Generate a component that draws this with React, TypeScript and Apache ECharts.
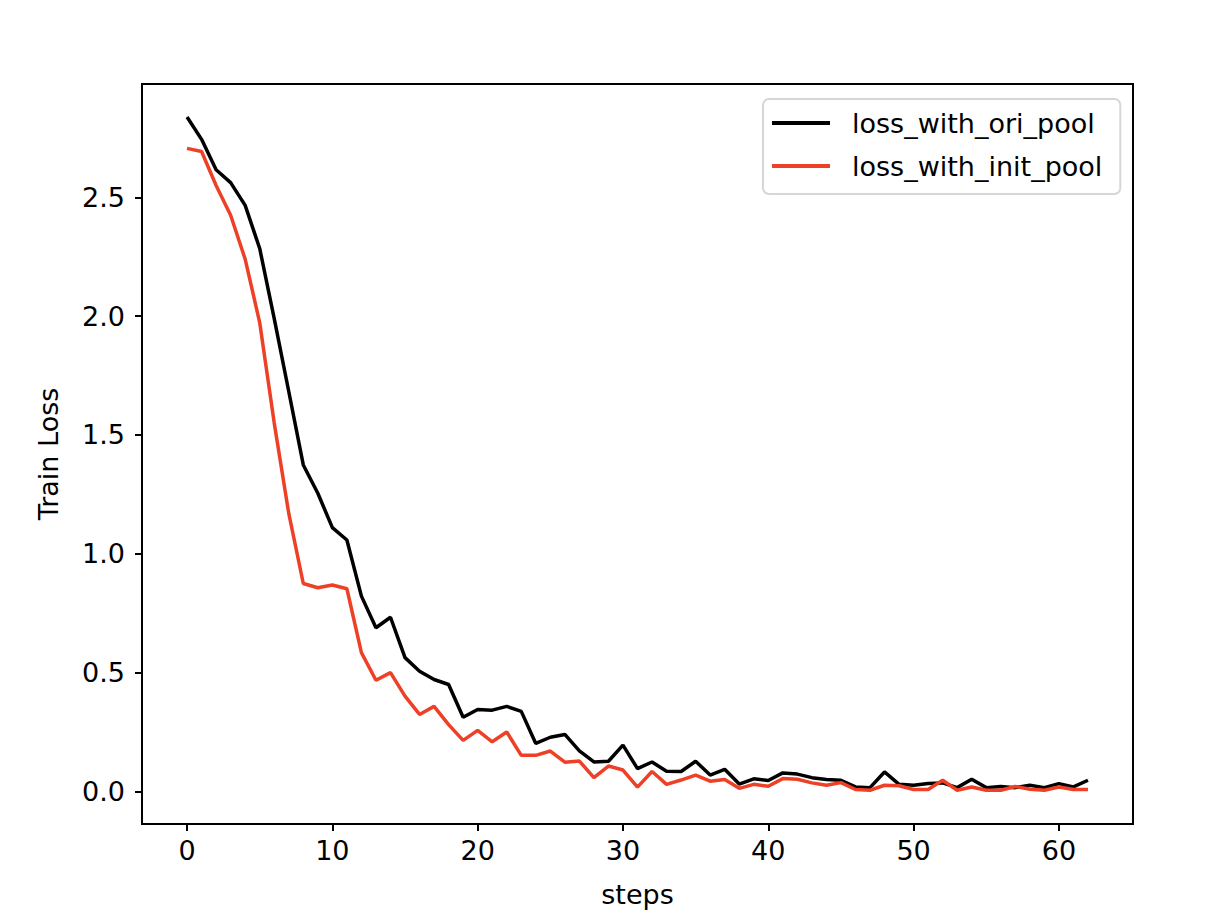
import React, { useEffect, useRef } from "react";
import * as echarts from "echarts";

const steps = [
  0, 1, 2, 3, 4, 5, 6, 7, 8, 9, 10, 11, 12, 13, 14, 15, 16, 17, 18, 19, 20,
  21, 22, 23, 24, 25, 26, 27, 28, 29, 30, 31, 32, 33, 34, 35, 36, 37, 38, 39,
  40, 41, 42, 43, 44, 45, 46, 47, 48, 49, 50, 51, 52, 53, 54, 55, 56, 57, 58,
  59, 60, 61, 62,
];

const lossOriPool = [
  2.838, 2.744, 2.616, 2.562, 2.466, 2.285, 1.99, 1.683, 1.374, 1.255,
  1.11, 1.058, 0.822, 0.689, 0.733, 0.563, 0.506, 0.471, 0.45, 0.312,
  0.345, 0.342, 0.358, 0.337, 0.202, 0.228, 0.24, 0.171, 0.124, 0.127,
  0.195, 0.096, 0.124, 0.085, 0.084, 0.127, 0.069, 0.093, 0.031, 0.053,
  0.046, 0.078, 0.073, 0.058, 0.05, 0.047, 0.019, 0.016, 0.082, 0.03,
  0.026, 0.033, 0.036, 0.016, 0.051, 0.016, 0.021, 0.016, 0.026, 0.016,
  0.033, 0.019, 0.047,
];

const lossInitPool = [
  2.706, 2.693, 2.55, 2.425, 2.24, 1.973, 1.55, 1.17, 0.875, 0.857,
  0.869, 0.853, 0.584, 0.468, 0.5, 0.401, 0.324, 0.358, 0.281, 0.215,
  0.257, 0.209, 0.25, 0.152, 0.152, 0.17, 0.123, 0.128, 0.058, 0.107,
  0.09, 0.018, 0.084, 0.03, 0.048, 0.069, 0.043, 0.05, 0.013, 0.03,
  0.022, 0.054, 0.051, 0.036, 0.026, 0.037, 0.008, 0.005, 0.026, 0.024,
  0.008, 0.008, 0.047, 0.005, 0.019, 0.005, 0.005, 0.021, 0.009, 0.005,
  0.019, 0.008, 0.008,
];

const xTicks = [0, 10, 20, 30, 40, 50, 60];
const yTicks = [0, 0.5, 1.0, 1.5, 2.0, 2.5];

const seriesNames = ["loss_with_ori_pool", "loss_with_init_pool"];
const seriesColors = ["#000000", "#ee4026"];

const FONT = "DejaVu Sans";

export default function App() {
  const ref = useRef<HTMLDivElement>(null);

  useEffect(() => {
    if (!ref.current) return;
    const chart = echarts.init(ref.current, undefined, { renderer: "svg" });
    const toPairs = (vals: number[]) => steps.map((s, i) => [s, vals[i]]);
    const option: any = {
      animation: false,
      backgroundColor: "#ffffff",
      textStyle: { fontFamily: FONT },
      grid: {
        left: 142,
        right: 91,
        top: 84,
        bottom: 92,
        show: true,
        borderColor: "#000000",
        borderWidth: 2,
        backgroundColor: "transparent",
      },
      legend: {
        orient: "vertical",
        left: 763,
        top: 99,
        icon: "rect",
        itemWidth: 58,
        itemHeight: 4,
        itemGap: 13,
        padding: [9, 18, 13, 9],
        borderColor: "#d6d6d6",
        borderWidth: 2,
        borderRadius: 6,
        backgroundColor: "rgba(255,255,255,0.8)",
        data: seriesNames,
        textStyle: {
          fontFamily: FONT,
          fontSize: 27,
          color: "#000000",
          lineHeight: 30,
          padding: [0, 0, 0, 17],
        },
      },
      xAxis: {
        type: "value",
        min: -3.1,
        max: 65.1,
        name: "steps",
        nameLocation: "middle",
        nameGap: 57,
        nameTextStyle: { fontFamily: FONT, fontSize: 27, color: "#000000" },
        splitLine: { show: false },
        axisLine: { show: true, onZero: false, lineStyle: { color: "#000000", width: 2 } },
        axisTick: {
          show: true,
          inside: false,
          length: 7,
          customValues: xTicks,
          lineStyle: { color: "#000000", width: 2 },
        },
        axisLabel: {
          customValues: xTicks,
          margin: 13,
          fontFamily: FONT,
          fontSize: 27,
          color: "#000000",
        },
      },
      yAxis: {
        type: "value",
        min: -0.137,
        max: 2.977,
        name: "Train Loss",
        nameLocation: "middle",
        nameGap: 80,
        nameTextStyle: { fontFamily: FONT, fontSize: 27, color: "#000000" },
        splitLine: { show: false },
        axisLine: { show: true, onZero: false, lineStyle: { color: "#000000", width: 2 } },
        axisTick: {
          show: true,
          inside: false,
          length: 7,
          customValues: yTicks,
          lineStyle: { color: "#000000", width: 2 },
        },
        axisLabel: {
          customValues: yTicks,
          margin: 17,
          fontFamily: FONT,
          fontSize: 27,
          color: "#000000",
          formatter: (v: number) => v.toFixed(1),
        },
      },
      series: [
        {
          name: seriesNames[0],
          type: "line",
          data: toPairs(lossOriPool),
          showSymbol: false,
          symbol: "none",
          lineStyle: { color: seriesColors[0], width: 3.5 },
          itemStyle: { color: seriesColors[0] },
          z: 3,
        },
        {
          name: seriesNames[1],
          type: "line",
          data: toPairs(lossInitPool),
          showSymbol: false,
          symbol: "none",
          lineStyle: { color: seriesColors[1], width: 3.5 },
          itemStyle: { color: seriesColors[1] },
          z: 4,
        },
      ],
    };
    chart.setOption(option);
    return () => chart.dispose();
  }, []);

  return (
    <div
      ref={ref}
      style={{ position: "fixed", left: 0, top: 0, width: 1224, height: 916, background: "#fff" }}
    />
  );
}
